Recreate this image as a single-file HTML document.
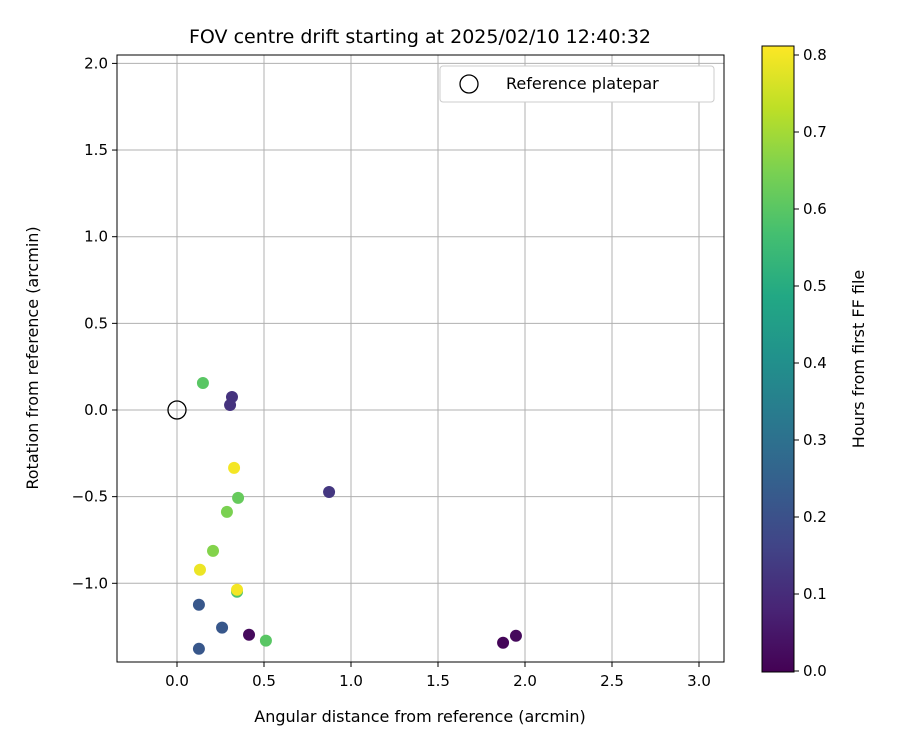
<!DOCTYPE html>
<html><head><meta charset="utf-8"><style>
body{margin:0;background:#fff;font-family:"Liberation Sans","DejaVu Sans",sans-serif}
</style></head><body>
<svg id="chart" width="900" height="750" xmlns="http://www.w3.org/2000/svg" font-family="DejaVu Sans, Liberation Sans, sans-serif">
<text x="420" y="43" font-size="19" text-anchor="middle">FOV centre drift starting at 2025/02/10 12:40:32</text>
<g id="grid"></g>
<g id="pts"></g>
<rect x="117" y="55" width="607" height="607" fill="none" stroke="#000" stroke-width="1"/>
<g id="ticks" font-size="15"></g>
<text x="420" y="722" font-size="16" text-anchor="middle">Angular distance from reference (arcmin)</text>
<text transform="translate(38,358) rotate(-90)" font-size="16" text-anchor="middle">Rotation from reference (arcmin)</text>
<g>
<rect x="440" y="66" width="274" height="36" rx="3" fill="#fff" stroke="#ccc"/>
<circle cx="469" cy="84" r="9" fill="none" stroke="#000" stroke-width="1.3"/>
<text x="506" y="89" font-size="16">Reference platepar</text>
</g>
<defs><linearGradient id="vir" x1="0" y1="1" x2="0" y2="0">
<stop offset="0" stop-color="#440154"/><stop offset="0.1" stop-color="#482475"/><stop offset="0.2" stop-color="#414487"/><stop offset="0.3" stop-color="#355f8d"/><stop offset="0.4" stop-color="#2a788e"/><stop offset="0.5" stop-color="#21918c"/><stop offset="0.6" stop-color="#22a884"/><stop offset="0.7" stop-color="#44bf70"/><stop offset="0.8" stop-color="#7ad151"/><stop offset="0.9" stop-color="#bddf26"/><stop offset="1" stop-color="#fde725"/>
</linearGradient></defs>
<rect x="762" y="46" width="32" height="626" fill="url(#vir)" stroke="#000"/>
<g id="cbt" font-size="15"></g>
<text transform="translate(864,359) rotate(-90)" font-size="16" text-anchor="middle">Hours from first FF file</text>
</svg>
<script>
const xs=[0.149,0.316,0.305,0.328,0.874,0.351,0.287,0.207,0.132,0.345,0.345,0.126,0.259,0.414,0.511,0.126,1.874,1.948];
const ys=[0.156,0.075,0.029,-0.334,-0.473,-0.507,-0.588,-0.813,-0.922,-1.049,-1.037,-1.124,-1.256,-1.297,-1.331,-1.378,-1.343,-1.303];
const hrs=[0.60,0.12,0.12,0.80,0.13,0.62,0.65,0.66,0.79,0.58,0.80,0.22,0.22,0.02,0.60,0.22,0.01,0.02];
const xTicks=[0,0.5,1,1.5,2,2.5,3];
const yTicks=[-1,-0.5,0,0.5,1,1.5,2];
const cTicks=[0,0.1,0.2,0.3,0.4,0.5,0.6,0.7,0.8];
const NS="http://www.w3.org/2000/svg";
const X=v=>177+v*174, Y=v=>410-v*173.3, C=v=>671-v*770;
const vir=["#440154","#482475","#414487","#355f8d","#2a788e","#21918c","#22a884","#44bf70","#7ad151","#bddf26","#fde725"];
function col(h){let t=Math.max(0,Math.min(1,h/0.812))*10,i=Math.min(9,Math.floor(t)),f=t-i;
const a=vir[i],b=vir[i+1],p=(s,k)=>parseInt(s.substr(k,2),16);let r=[1,3,5].map(k=>Math.round(p(a,k)+(p(b,k)-p(a,k))*f));return `rgb(${r})`;}
function mk(t,at,par){const e=document.createElementNS(NS,t);for(const k in at)e.setAttribute(k,at[k]);par.appendChild(e);return e;}
const g=document.getElementById('grid'),tk=document.getElementById('ticks'),pts=document.getElementById('pts'),cb=document.getElementById('cbt');
xTicks.forEach(v=>{const l=mk('line',{x1:X(v),x2:X(v),y1:55,y2:662,stroke:'#b0b0b0','stroke-width':1},g);


mk('line',{x1:X(v),x2:X(v),y1:662,y2:667,stroke:'#000'},tk);
const t=mk('text',{x:X(v),y:686,'text-anchor':'middle'},tk);t.textContent=v.toFixed(1);

});
yTicks.forEach(v=>{const l=mk('line',{x1:117,x2:724,y1:Y(v),y2:Y(v),stroke:'#b0b0b0','stroke-width':1},g);


mk('line',{x1:112,x2:117,y1:Y(v),y2:Y(v),stroke:'#000'},tk);
const t=mk('text',{x:108,y:Y(v)+5,'text-anchor':'end'},tk);t.textContent=(v<0?'\u2212':'')+Math.abs(v).toFixed(1);

});
xs.forEach((x,i)=>{const c=mk('circle',{cx:X(x),cy:Y(ys[i]),r:6,fill:col(hrs[i])},pts);

});
const ref=mk('circle',{cx:X(0),cy:Y(0),r:9,fill:'none',stroke:'#000','stroke-width':1.3},pts);


cTicks.forEach(v=>{mk('line',{x1:794,x2:799,y1:C(v),y2:C(v),stroke:'#000'},cb);
const t=mk('text',{x:803,y:C(v)+5},cb);t.textContent=v.toFixed(1);

});
</script>
</body></html>
